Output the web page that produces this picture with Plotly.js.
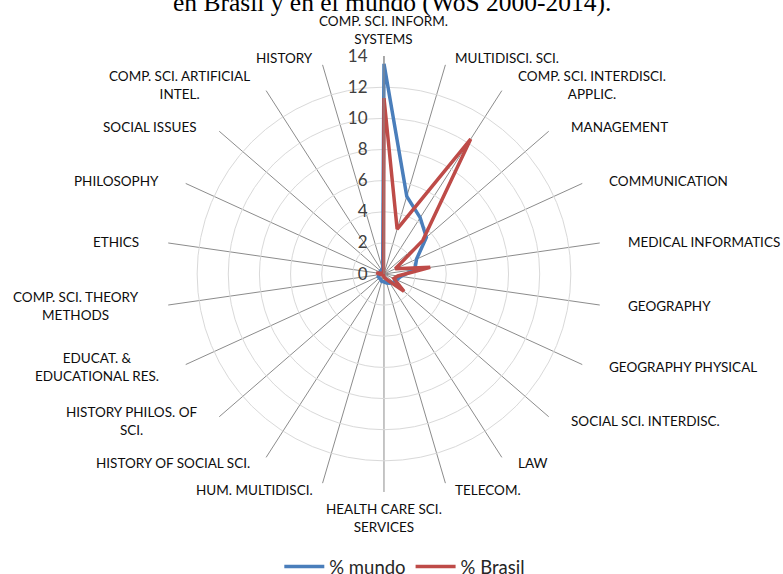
<!DOCTYPE html>
<html>
<head>
<meta charset="utf-8">
<script src="https://cdn.plot.ly/plotly-3.0.1.min.js"></script>
<style>html,body{margin:0;padding:0;background:#fff;}#chart{width:783px;height:574px;}</style>
</head>
<body>
<div id="chart"></div>
<script>
var categories = [
  "COMP. SCI. INFORM.<br>SYSTEMS",
  "MULTIDISCI. SCI.",
  "COMP. SCI. INTERDISCI.<br>APPLIC.",
  "MANAGEMENT",
  "COMMUNICATION",
  "MEDICAL INFORMATICS",
  "GEOGRAPHY",
  "GEOGRAPHY PHYSICAL",
  "SOCIAL SCI. INTERDISC.",
  "LAW",
  "TELECOM.",
  "HEALTH CARE SCI.<br>SERVICES",
  "HUM. MULTIDISCI.",
  "HISTORY OF SOCIAL SCI.",
  "HISTORY PHILOS. OF<br>SCI.",
  "EDUCAT. &<br>EDUCATIONAL RES.",
  "COMP. SCI. THEORY<br>METHODS",
  "ETHICS",
  "PHILOSOPHY",
  "SOCIAL ISSUES",
  "COMP. SCI. ARTIFICIAL<br>INTEL.",
  "HISTORY"
];
var mundo = [13.5, 5.2, 4.3, 3.6, 2.3, 2.0, 1.1, 0.9, 0.8, 0.7, 0.6, 0.5, 0.5, 0.4, 0.4, 0.4, 0.3, 0.3, 0.3, 0.3, 0.3, 0.3];
var brasil = [11.3, 3.0, 10.3, 3.3, 0.8, 3.0, 0.9, 0.7, 1.7, 0.5, 0.3, 0.2, 0.1, 0.1, 0.1, 0.1, 0.2, 0.5, 0.1, 0.1, 0.1, 0.1];
var radialTicks = [0, 2, 4, 6, 8, 10, 12, 14];
var titleText = "en Brasil y en el mundo (WoS 2000-2014).";

function closeLoop(a){ return a.concat([a[0]]); }

var W = 783, H = 574;
var domX = [0.2120, 0.7688], domY = [0.1429, 0.9024];

var traces = [
  {type:'scatterpolar', mode:'lines', name:'% mundo', r:closeLoop(mundo), theta:closeLoop(categories),
   line:{color:'#4A7EBB', width:3.5}},
  {type:'scatterpolar', mode:'lines', name:'% Brasil', r:closeLoop(brasil), theta:closeLoop(categories),
   line:{color:'#BE4B48', width:3.5}}
];

// category labels placed around the polar area (Excel-like placement)
var cxp = (domX[0] + domX[1]) / 2, cyp = (domY[0] + domY[1]) / 2;
var labelA = 245, labelB = 225; // label offset from centre, px
var annotations = categories.map(function(c, i){
  var th = i * 2 * Math.PI / categories.length;
  var s = Math.sin(th), co = Math.cos(th);
  var xa = Math.abs(s) < 0.01 ? 'center' : (s > 0 ? 'left' : 'right');
  var ya = 'middle';
  if (Math.abs(s) < 0.01) ya = co > 0 ? 'bottom' : 'top';
  return {
    text:c, xref:'paper', yref:'paper', showarrow:false,
    x: cxp + labelA * s / W, y: cyp + labelB * co / H,
    xanchor: xa, yanchor: ya, align:'center',
    font:{family:'Lato, sans-serif', size:13.5, color:'#0d0d0d'}
  };
});
annotations.push({
  text:titleText, xref:'paper', yref:'paper', x:0.5, y:1 - 3/574, xanchor:'center', yanchor:'middle',
  showarrow:false, font:{family:'Liberation Serif, Times New Roman, serif', size:25.5, color:'#000'}
});

var layout = {
  width:W, height:H,
  margin:{l:0,r:0,t:0,b:0, autoexpand:false},
  paper_bgcolor:'#fff',
  showlegend:true,
  legend:{orientation:'h', x:0.517, xanchor:'center', y:1-567/574, yanchor:'middle',
          font:{family:'Lato, sans-serif', size:18.5, color:'#262626'}, itemwidth:40},
  polar:{
    domain:{x:domX, y:domY},
    bgcolor:'rgba(0,0,0,0)',
    gridshape:'circular',
    angularaxis:{
      direction:'clockwise', rotation:90, type:'category',
      categoryarray:categories, categoryorder:'array',
      gridcolor:'#8c8c8c', gridwidth:1,
      showline:false, showticklabels:false, ticks:''
    },
    radialaxis:{
      range:[0,14], tickvals:radialTicks, ticktext:radialTicks.map(String),
      angle:90, side:'counterclockwise', tickangle:90,
      showline:true, linecolor:'#8c8c8c', linewidth:1,
      gridcolor:'#d9d9d9', gridwidth:1,
      ticks:'outside', ticklen:10, tickcolor:'rgba(0,0,0,0)',
      tickfont:{family:'Lato, sans-serif', size:17, color:'#404040'}
    }
  },
  annotations:annotations
};

Plotly.newPlot('chart', traces, layout, {displayModeBar:false, staticPlot:true});
</script>
</body>
</html>
